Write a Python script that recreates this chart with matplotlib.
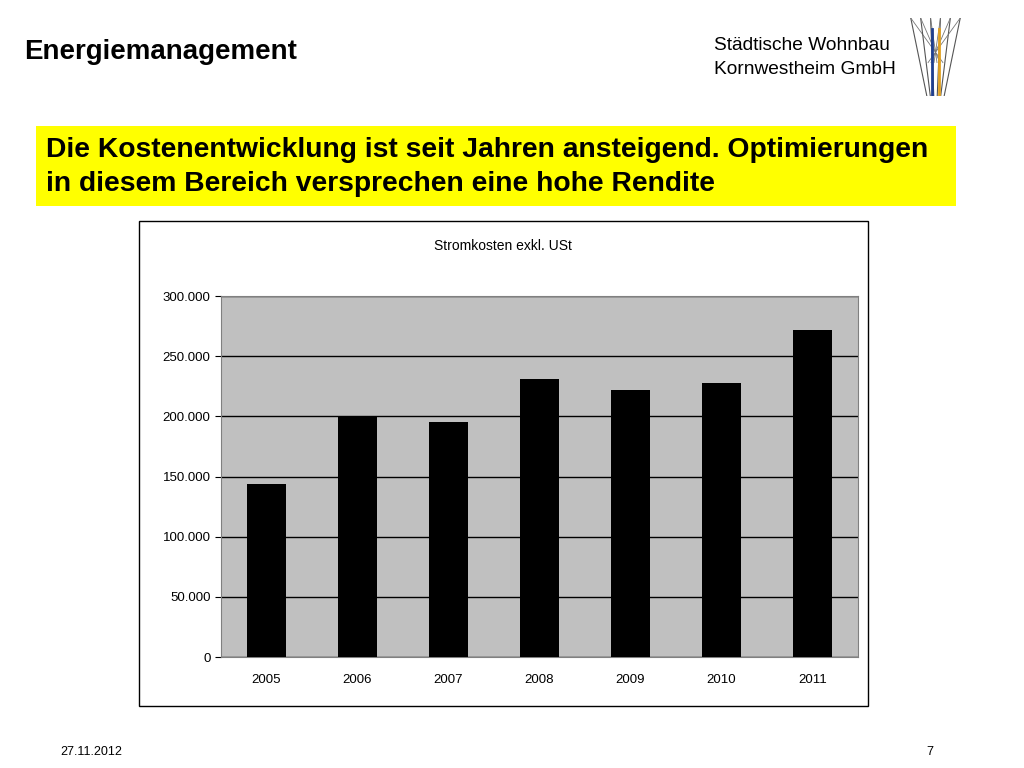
import matplotlib
matplotlib.use("Agg")
import matplotlib.pyplot as plt
from matplotlib.patches import Rectangle
from matplotlib.ticker import FuncFormatter

years = ["2005", "2006", "2007", "2008", "2009", "2010", "2011"]
kosten = [144000, 200000, 195500, 231000, 222000, 228000, 272000]
yticks = [0, 50000, 100000, 150000, 200000, 250000, 300000]

W, H = 1024, 768
fig = plt.figure(figsize=(W/100, H/100), dpi=100)
fig.patch.set_facecolor("white")

def fx(x): return x / W
def fy(y): return 1 - y / H

fig.text(fx(24), fy(52), "Energiemanagement", fontsize=20, fontweight="bold", va="center", family="Liberation Sans")
fig.text(fx(714), fy(45), "Städtische Wohnbau", fontsize=13.8, va="center", family="Liberation Sans")
fig.text(fx(714), fy(70), "Kornwestheim GmbH", fontsize=13.8, va="center", family="Liberation Sans")

# simple logo sketch
lax = fig.add_axes([fx(908), fy(96), fx(55), fx(78)*W/H])
lax.set_xlim(0, 10); lax.set_ylim(0, 14); lax.axis("off")
for i in range(6):
    x = 0.5 + i * 1.8
    lax.plot([x, 5 + (x - 5) * 0.35], [14, 0], color="#555", lw=0.8)
    lax.plot([x, 5 - (x - 5) * 0.3], [14, 6], color="#777", lw=0.6)
lax.plot([4.3, 4.3], [0, 12], color="#1f3f8f", lw=2)
lax.plot([5.7, 5.7], [0, 12], color="#e0a020", lw=2)

fig.patches.append(Rectangle((fx(36), fy(206)), fx(956-36), (206-126)/H, zorder=-5,
                             transform=fig.transFigure, facecolor="#ffff00", edgecolor="none"))
fig.text(fx(46), fy(150), "Die Kostenentwicklung ist seit Jahren ansteigend. Optimierungen",
         fontsize=20.3, fontweight="bold", va="center", family="Liberation Sans")
fig.text(fx(46), fy(184), "in diesem Bereich versprechen eine hohe Rendite",
         fontsize=20.3, fontweight="bold", va="center", family="Liberation Sans")

fig.patches.append(Rectangle((fx(139), fy(706)), fx(868-139), (706-221)/H, zorder=-5,
                             transform=fig.transFigure, facecolor="white", edgecolor="black", lw=1))
fig.text(fx(503), fy(246), "Stromkosten exkl. USt", fontsize=10, ha="center", va="center", family="Liberation Sans")

ax = fig.add_axes([fx(221), fy(657), fx(858-221), (657-296)/H])
ax.set_zorder(5)
ax.set_facecolor("#c0c0c0")
ax.bar(range(len(years)), kosten, width=0.42, color="black", zorder=3)
ax.set_xlim(-0.5, len(years) - 0.5)
ax.set_ylim(0, 300000)
ax.set_yticks(yticks)
ax.yaxis.set_major_formatter(FuncFormatter(lambda v, p: "0" if v == 0 else f"{int(v):,}".replace(",", ".")))
ax.set_xticks(range(len(years)))
ax.set_xticklabels(years)
ax.grid(axis="y", color="black", lw=1, zorder=1)
for s in ["top", "right", "left", "bottom"]:
    ax.spines[s].set_color("#808080")
ax.tick_params(labelsize=9.5, colors="black", length=4)
for l in ax.get_xticklabels() + ax.get_yticklabels():
    l.set_family("Liberation Sans")
ax.tick_params(axis="x", pad=12, length=0)

fig.text(fx(60), fy(752), "27.11.2012", fontsize=9, va="center", family="Liberation Sans")
fig.text(fx(933), fy(752), "7", fontsize=9, ha="right", va="center", family="Liberation Sans")

fig.savefig("out.png", dpi=100)
